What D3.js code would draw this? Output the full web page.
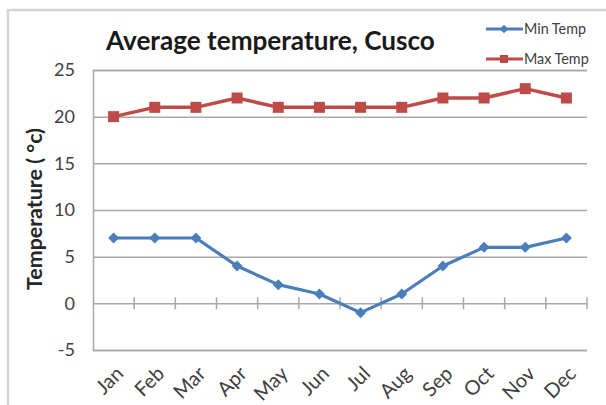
<!DOCTYPE html>
<html><head><meta charset="utf-8">
<script src="https://cdn.jsdelivr.net/npm/d3@7"></script>
<style>html,body{margin:0;padding:0;background:#fff;}svg{display:block;}</style>
</head><body>
<svg id="c" width="606" height="405"></svg>
<script>
const months = ["Jan","Feb","Mar","Apr","May","Jun","Jul","Aug","Sep","Oct","Nov","Dec"];
const minTemp = [7,7,7,4,2,1,-1,1,4,6,6,7];
const maxTemp = [20,21,21,22,21,21,21,21,22,22,23,22];
const yTicks = [-5,0,5,10,15,20,25];
const seriesNames = ["Min Temp","Max Temp"];
const titleText = "Average temperature, Cusco";
const yTitle = "Temperature ( \u00b0c)";

const svg = d3.select("#c");
const FONT = "Lato, 'Open Sans', sans-serif";
const L = 93, R = 587, T = 70, B = 350;
const blue = "#4a7ebb", red = "#be4b48", grid = "#a8a8a8", txt = "#404040";

function fit(sel, w) {
  const n = sel.node(); let fs = parseFloat(sel.attr("font-size"));
  const len = n.getComputedTextLength();
  sel.attr("font-size", (fs * w / len).toFixed(2));
}

// outer border
svg.append("rect").attr("x", 8).attr("y", 10).attr("width", 620).attr("height", 420)
  .attr("fill", "#fff").attr("stroke", "#d4d4d4").attr("stroke-width", 2.5);

const x = d3.scaleBand().domain(months).range([L, R]).padding(0);
const y = d3.scaleLinear().domain([-5, 25]).range([B, T]);

// gridlines
const gAxisY = svg.append("g").attr("transform", `translate(${L},0)`)
  .call(d3.axisLeft(y).tickValues(yTicks).tickSize(-(R - L)).tickPadding(18).tickFormat(d => String(d)));
gAxisY.select(".domain").attr("stroke", grid).attr("stroke-width", 1.5);
gAxisY.selectAll(".tick line").attr("stroke", grid).attr("stroke-width", 1.5);
gAxisY.selectAll(".tick text").attr("fill", txt).attr("font-family", FONT).attr("font-size", 18);

// category axis at 0 with boundary ticks
const gx = svg.append("g").attr("transform", `translate(0,${y(0)})`);
const bounds = months.map(m => x(m)).concat([x(months[months.length - 1]) + x.bandwidth()]);
gx.selectAll("line.t").data(bounds.slice(1)).join("line")
  .attr("x1", d => d).attr("x2", d => d).attr("y1", -6).attr("y2", 6)
  .attr("stroke", grid).attr("stroke-width", 1.5);

// x labels
svg.append("g").selectAll("text").data(months).join("text")
  .attr("transform", d => `translate(${x(d) + x.bandwidth() / 2 + 6},${B + 20}) rotate(-45)`)
  .attr("text-anchor", "end").attr("dy", "0.35em")
  .attr("font-family", FONT).attr("font-size", 20).attr("fill", txt).text(d => d);

// lines
const cx = (d, i) => x(months[i]) + x.bandwidth() / 2;
const line = d3.line().x(cx).y(d => y(d));
svg.append("path").datum(minTemp).attr("d", line).attr("fill", "none")
  .attr("stroke", blue).attr("stroke-width", 3.2).attr("stroke-linejoin", "round");
svg.append("path").datum(maxTemp).attr("d", line).attr("fill", "none")
  .attr("stroke", red).attr("stroke-width", 3.5).attr("stroke-linejoin", "round");

svg.append("g").selectAll("path").data(minTemp).join("path")
  .attr("d", d3.symbol().type(d3.symbolSquare).size(60)())
  .attr("transform", (d, i) => `translate(${cx(d, i)},${y(d)}) rotate(45)`)
  .attr("fill", blue);
svg.append("g").selectAll("rect").data(maxTemp).join("rect")
  .attr("x", (d, i) => cx(d, i) - 5.5).attr("y", d => y(d) - 5.5)
  .attr("width", 11).attr("height", 11).attr("fill", red);

// title
const t = svg.append("text").attr("x", 106).attr("y", 50)
  .attr("font-family", FONT).attr("font-weight", 700).attr("font-size", 22)
  .attr("fill", "#1a1a1a").text(titleText);
fit(t, 329);

// y title
const yt = svg.append("text").attr("transform", "translate(42,209) rotate(-90)")
  .attr("text-anchor", "middle").attr("font-family", FONT).attr("font-weight", 700)
  .attr("font-size", 17).attr("fill", "#262626").text(yTitle);
fit(yt, 162);

// legend
const lg = svg.append("g");
const ly = [29, 59];
const cols = [blue, red];
seriesNames.forEach((s, i) => {
  lg.append("line").attr("x1", 486).attr("x2", 523).attr("y1", ly[i]).attr("y2", ly[i])
    .attr("stroke", cols[i]).attr("stroke-width", 3);
  if (i === 0) {
    lg.append("rect").attr("x", -3).attr("y", -3).attr("width", 6).attr("height", 6)
      .attr("transform", `translate(504,${ly[i]}) rotate(45)`).attr("fill", cols[i]);
  } else {
    lg.append("rect").attr("x", 500).attr("y", ly[i] - 4).attr("width", 8).attr("height", 8).attr("fill", cols[i]);
  }
  const tx = lg.append("text").attr("x", 524).attr("y", ly[i]).attr("dy", "0.35em")
    .attr("font-family", FONT).attr("font-size", 13).attr("fill", txt).text(s);
  if (i === 0) fit(tx, 62);
  else tx.attr("font-size", lg.select("text").attr("font-size"));
});
</script>
</body></html>
